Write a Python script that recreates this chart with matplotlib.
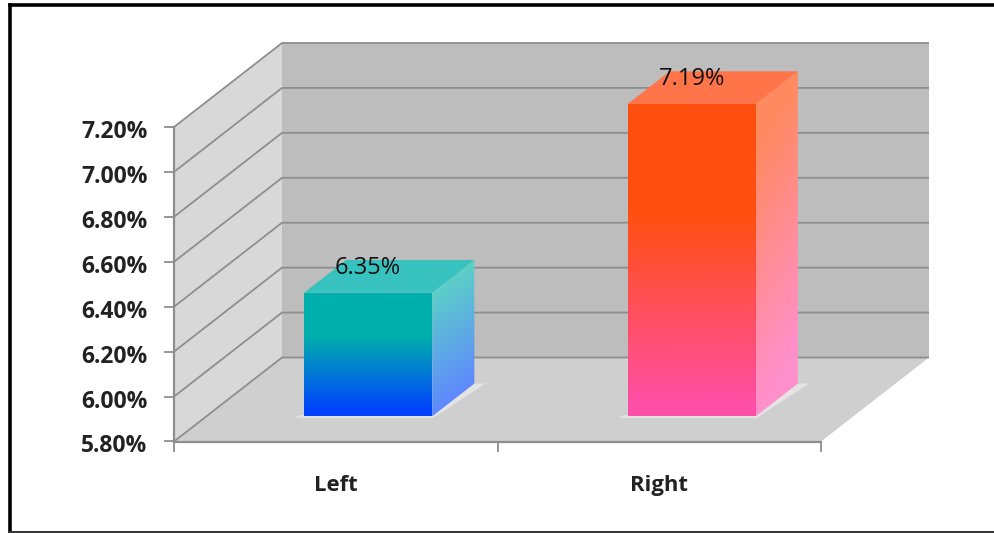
import numpy as np
import matplotlib
matplotlib.use("Agg")
import matplotlib.pyplot as plt
from matplotlib.colors import to_rgb
from matplotlib.lines import Line2D
from matplotlib.patches import Polygon
from matplotlib.transforms import ScaledTranslation

categories = ["Left", "Right"]
values = [6.35, 7.19]
value_labels = ["6.35%", "7.19%"]
y_ticks = [5.8, 6.0, 6.2, 6.4, 6.6, 6.8, 7.0, 7.2]
y_tick_labels = ["5.80%", "6.00%", "6.20%", "6.40%", "6.60%", "6.80%", "7.00%", "7.20%"]

W, H = 995, 533
plt.rcParams["font.family"] = ["Open Sans", "DejaVu Sans"]

fig = plt.figure(figsize=(W / 100, H / 100), dpi=100, facecolor="white")
ax = fig.add_axes([174 / W, 1 - 441.5 / H, (821 - 174) / W, (441.5 - 127) / H])
YMIN, YMAX = y_ticks[0], y_ticks[-1]
XMAX = len(categories)

# Oblique projection: how far one full unit of depth shifts a point
DEPTH_X = 108 / (821 - 174) * XMAX
DEPTH_Y = 84 / (441.5 - 127) * (YMAX - YMIN)


def proj(x, y, d=0.0):
    return (x + d * DEPTH_X, y + d * DEPTH_Y)


def face(points, color, z):
    patch = Polygon(points, closed=True, facecolor=color, edgecolor="none",
                    zorder=z, clip_on=False)
    ax.add_patch(patch)
    return patch


def gradient_face(points, rgb, z):
    # Paint a colour array into a box and trim it to the polygon outline
    clip = face(points, "none", z)
    xs = [p[0] for p in points]
    ys = [p[1] for p in points]
    im = ax.imshow(rgb, extent=(min(xs), max(xs), min(ys), max(ys)), origin="upper",
                   aspect="auto", interpolation="bilinear", zorder=z)
    im.set_clip_box(fig.bbox)
    im.set_clip_path(clip)


def mix(c0, c1, t):
    c0, c1 = np.array(to_rgb(c0)), np.array(to_rgb(c1))
    return c0[None, None, :] * (1 - t[..., None]) + c1[None, None, :] * t[..., None]


# Back wall, side wall and floor
WALL_BACK, WALL_SIDE, FLOOR = "#bdbdbd", "#d8d8d8", "#cfcfcf"
GRID = "#8e8e8e"
face([proj(0, YMIN, 1), proj(XMAX, YMIN, 1), proj(XMAX, YMAX, 1), proj(0, YMAX, 1)], WALL_BACK, 1)
face([proj(0, YMIN), proj(0, YMIN, 1), proj(0, YMAX, 1), proj(0, YMAX)], WALL_SIDE, 1)
face([proj(0, YMIN), proj(XMAX, YMIN), proj(XMAX, YMIN, 1), proj(0, YMIN, 1)], FLOOR, 1)

for tick in y_ticks:
    xs, ys = zip(proj(0, tick), proj(0, tick, 1), proj(XMAX, tick, 1))
    ax.plot(xs, ys, color=GRID, lw=1.3, zorder=2, clip_on=False, solid_capstyle="butt")

# Gradient columns
BAR_WIDTH = 0.396
D0, D1 = 0.30, 0.69
styles = [
    dict(top="#38c2bf", front=("#00b0ac", "#0040ff"), side=("#5ccfc8", "#5f88ff")),
    dict(top="#ff7448", front=("#ff4f0f", "#ff4fa8"), side=("#ff8a60", "#ff90cc")),
]

for i, (value, label, st) in enumerate(zip(values, value_labels, styles)):
    x0 = i + 0.5 - BAR_WIDTH / 2
    x1 = i + 0.5 + BAR_WIDTH / 2

    # Pale shadow hugging the foot of the column
    face([proj(x0 - 0.03, YMIN, D0), proj(x1, YMIN, D0), proj(x1, YMIN, D0 + 0.02),
          proj(x1, YMIN, D1 - 0.02), proj(x1 + 0.03, YMIN, D1), proj(x1 + 0.01, YMIN, D0 - 0.02),
          proj(x0 - 0.01, YMIN, D0 - 0.02)], "#e4e4e4", 3)
    face([proj(x0 - 0.03, YMIN, D0), proj(x1 + 0.01, YMIN, D0), proj(x1 + 0.035, YMIN, D1),
          proj(x1, YMIN, D1), proj(x1, YMIN, D0 + 0.02), proj(x0, YMIN, D0 + 0.02)], "#e4e4e4", 3)

    # Front face: solid upper part fading towards the floor
    v = np.linspace(0, 1, 256)[:, None]
    t = np.clip((v - 0.35) / 0.62, 0, 1)
    gradient_face([proj(x0, YMIN, D0), proj(x1, YMIN, D0), proj(x1, value, D0), proj(x0, value, D0)],
                  mix(*st["front"], t), 4)

    # Side face: the same fade, running diagonally
    uu, vv = np.meshgrid(np.linspace(0, 1, 64), np.linspace(0, 1, 256))
    t = np.clip((vv - 0.12) / 0.78 + (uu - 0.5) * 0.25, 0, 1)
    gradient_face([proj(x1, YMIN, D0), proj(x1, YMIN, D1), proj(x1, value, D1), proj(x1, value, D0)],
                  mix(*st["side"], t), 4)

    face([proj(x0, value, D0), proj(x1, value, D0), proj(x1, value, D1), proj(x0, value, D1)],
         st["top"], 4)

    cx, cy = proj(i + 0.5, value, D0)
    ax.text(cx, cy + 0.11, label, ha="center", va="center", fontsize=17, fontweight=500,
            color="#111111", zorder=6, clip_on=False)

ax.set_xlim(0, XMAX)
ax.set_ylim(YMIN, YMAX)
ax.patch.set_visible(False)

# Axes: ticks mark category boundaries, labels sit between them
for side in ("top", "right"):
    ax.spines[side].set_visible(False)
for side in ("left", "bottom"):
    ax.spines[side].set_color(GRID)
    ax.spines[side].set_linewidth(1.6)
    ax.spines[side].set_zorder(5)

ax.set_yticks(y_ticks, y_tick_labels, fontsize=16.5, fontweight="bold", color="#222222")
ax.set_xticks(range(XMAX + 1), [""] * (XMAX + 1))
ax.set_xticks([i + 0.5 for i in range(XMAX)], categories, minor=True,
              fontsize=15.8, fontweight="bold", color="#222222")
ax.tick_params(axis="y", length=7, width=1.3, color=GRID, pad=12)
ax.tick_params(axis="x", which="major", length=7, width=1.3, color=GRID)
ax.tick_params(axis="x", which="minor", length=0, pad=24)

# Nudge the value-axis labels down a touch below their ticks
nudge = ScaledTranslation(0, -2 / 100, fig.dpi_scale_trans)
for lab in ax.get_yticklabels():
    lab.set_transform(lab.get_transform() + nudge)

# Outer frame, open on the right-hand side
frame = [((9.5, 9.5), (0, H - 5)), ((9.5, W), (H - 5, H - 5))]
for xs, ys in frame:
    fig.add_artist(Line2D([x / W for x in xs], [y / H for y in ys], color="black", lw=2.6))
fig.add_artist(Line2D([9 / W, 1], [1.5 / H, 1.5 / H], color="#333333", lw=1.4))

fig.savefig("out.png", dpi=100)
